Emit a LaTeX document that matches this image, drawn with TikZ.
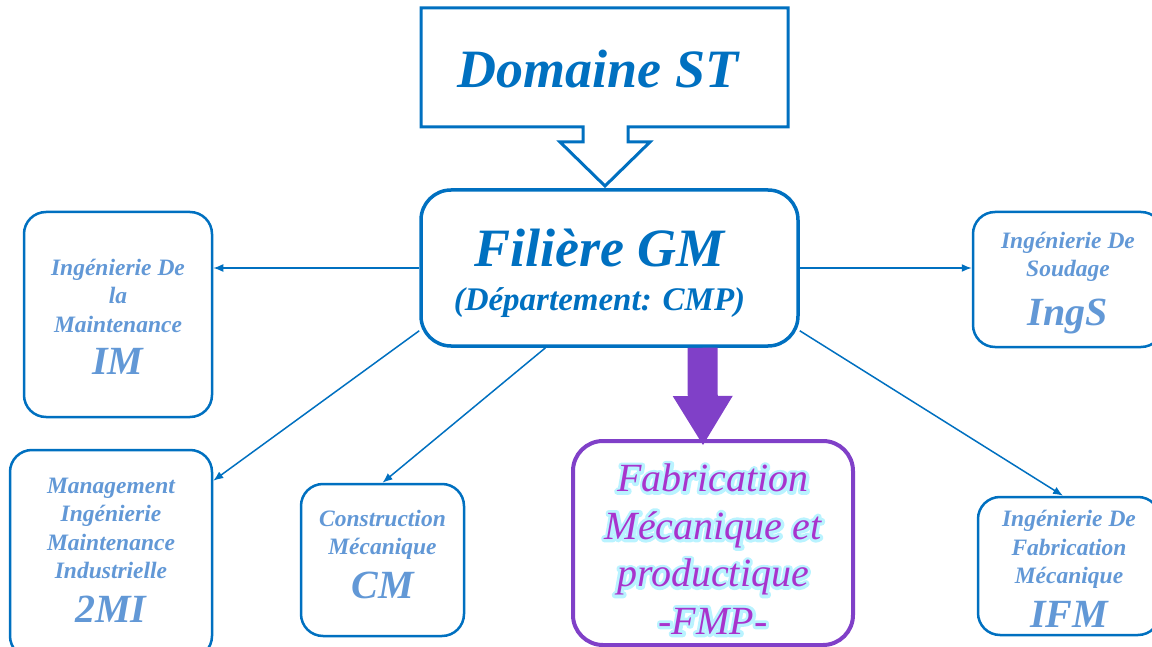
\documentclass[tikz,border=0pt]{standalone}
\usepackage{fontspec}
\setmainfont{Liberation Serif}
\usetikzlibrary{arrows.meta,positioning,calc}

\definecolor{gmblue}{RGB}{0,112,192}
\definecolor{optblue}{RGB}{98,152,214}
\definecolor{fmpviolet}{RGB}{128,64,200}
\definecolor{fmptext}{RGB}{168,52,205}
\definecolor{glowcyan}{RGB}{185,243,255}

\tikzstyle{option} = [draw=gmblue, line width=2.5pt, rounded corners=22pt, align=center, text=optblue, font=\bfseries\itshape\fontsize{23.5}{28.5}\selectfont]
\tikzstyle{filiere} = [draw=gmblue, line width=3.5pt, rounded corners=30pt, align=center, text=gmblue, font=\bfseries\itshape]
\tikzstyle{link} = [->, draw=gmblue, line width=1.5pt]
\tikzstyle{fmparrow} = [draw=fmpviolet, line width=30pt, -{Triangle[length=49pt, width=60pt, line width=0pt]}]
\tikzstyle{fmpfont} = [align=center, font=\itshape\fontsize{40}{47.5}\selectfont]

% short name of each option, set large
\newcommand{\sigle}[1]{{\fontsize{40}{44}\selectfont #1}}
% invisible strut to lower the text block a little
\newcommand{\haut}[1]{\rule{0pt}{#1}}
% outline stroke for the soft halo behind the FMP title
\newcommand{\halo}[1]{\special{pdf:literal direct 1 Tr 6 w 1 j}#1\special{pdf:literal direct 0 Tr}}

\begin{document}
\begin{tikzpicture}[x=1pt, y=-1pt, >={Latex[length=10pt,width=8pt]}]
	\useasboundingbox (0,0) rectangle (1152,647);

	% domain callout on top
	\draw[gmblue, line width=3pt] (421,8) -- (788,8) -- (788,127) -- (628,127) -- (628,142) -- (650,142)
		-- (605,186) -- (560,142) -- (583,142) -- (583,127) -- (421,127) -- cycle;
	\node[anchor=base, text=gmblue, font=\bfseries\itshape\fontsize{54}{60}\selectfont] (domaine) at (598,88) {Domaine ST};

	\node[filiere, minimum width=377pt, minimum height=156pt] (gm) at (609.5,268)
		{{\fontsize{54}{58}\selectfont\haut{48pt}Filière GM\hspace*{20pt}}\\[20pt]{\fontsize{33}{36}\selectfont (Département: CMP)\hspace*{20pt}}};

	\node[option, minimum width=188pt, minimum height=205pt] (im) at (118,314.5)
		{\haut{21pt}Ingénierie De\\la\\Maintenance\\[14pt]\sigle{IM}};
	\node[option, minimum width=202pt, minimum height=208pt, text depth=8pt] (mi) at (111,554)
		{Management\\Ingénierie\\Maintenance\\Industrielle\\[15pt]\sigle{2MI}};
	\node[option, minimum width=163pt, minimum height=152pt, text depth=12pt] (cm) at (382.5,560)
		{Construction\\Mécanique\\[11pt]\sigle{CM}};
	\node[option, minimum width=190pt, minimum height=135pt] (ings) at (1068,279.5)
		{\haut{23pt}Ingénierie De\\Soudage\\[16pt]\sigle{IngS}};
	\node[option, minimum width=182pt, minimum height=138pt] (ifm) at (1069,566)
		{\haut{22pt}Ingénierie De\\Fabrication\\Mécanique\\[11pt]\sigle{IFM}};

	% the chosen speciality
	\node[draw=fmpviolet, line width=4pt, rounded corners=30pt, minimum width=280pt, minimum height=204pt] (fmp) at (713,543) {};
	\node[fmpfont, text=glowcyan] (fmpglow) at (fmp.center)
		{\haut{40pt}\halo{Fabrication}\\\halo{Mécanique et}\\\halo{productique}\\\halo{-FMP-}};
	\node[fmpfont, text=fmptext] (fmptitle) at (fmp.center)
		{\haut{40pt}Fabrication\\Mécanique et\\productique\\-FMP-};

	\draw[link] (gm.west) -- (gm.west -| im.east);
	\draw[link] ([yshift=17pt]gm.south west) -- ([yshift=-32pt]mi.north east);
	\draw[link] ([xshift=-64pt]gm.south) -- (cm.north);
	\draw[link] (gm.east) -- (gm.east -| ings.west);
	\draw[link] ([yshift=17pt]gm.south east) -- ([xshift=-6pt]ifm.north);
	\draw[fmparrow] ([xshift=93pt]gm.south) -- ([xshift=-10pt, yshift=-6pt]fmp.north);
\end{tikzpicture}
\end{document}
